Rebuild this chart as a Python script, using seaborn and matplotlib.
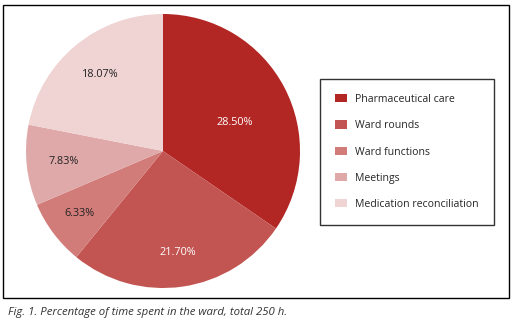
import matplotlib
matplotlib.use("Agg")
import numpy as np
import matplotlib.pyplot as plt
import seaborn as sns
from matplotlib.patches import Rectangle, Patch

categories = ["Pharmaceutical care", "Ward rounds", "Ward functions",
              "Meetings", "Medication reconciliation"]
values = [28.50, 21.70, 6.33, 7.83, 18.07]
colors = ["#B22624", "#C25451", "#D27C79", "#E0A9A9", "#F0D3D3"]
text_colors = ["white", "white", "#222222", "#222222", "#222222"]
label_dist = [0.56, 0.75, 0.76, 0.73, 0.72]

sns.set_theme(style="white")
plt.rcParams["font.family"] = ["Open Sans", "DejaVu Sans"]

fig = plt.figure(figsize=(5.16, 3.29), dpi=100)

# outer frame
fig.patches.append(Rectangle((3 / 516, 1 - 298 / 329), 506 / 516, 293 / 329,
                             transform=fig.transFigure, fill=False,
                             edgecolor="black", linewidth=1.0))

ax = fig.add_axes([26 / 516, 41 / 329, 274 / 516, 274 / 329])
labels_it = iter(f"{v:.2f}%" for v in values)
wedges, texts, autotexts = ax.pie(values, colors=colors, startangle=90,
                                  counterclock=False,
                                  autopct=lambda p: next(labels_it),
                                  wedgeprops={"edgecolor": "none", "linewidth": 0},
                                  textprops={"fontsize": 7.8})
for w, t, c, d in zip(wedges, autotexts, text_colors, label_dist):
    ang = np.deg2rad((w.theta1 + w.theta2) / 2)
    if w is wedges[0]:
        ang -= np.deg2rad(6)
    t.set_position((d * np.cos(ang), d * np.sin(ang)))
    t.set_color(c)
ax.set_xlim(-1, 1)
ax.set_ylim(-1, 1)
ax.set_aspect("equal")

handles = [Patch(facecolor=c, edgecolor="none") for c in colors]
leg = fig.legend(handles, categories, loc="center",
                 bbox_to_anchor=(407 / 516, 1 - 152 / 329),
                 frameon=True, fancybox=False, edgecolor="black",
                 fontsize=7.6, handlelength=1.1, handleheight=0.8,
                 labelspacing=1.45, borderpad=1.45, handletextpad=0.75,
                 borderaxespad=0)
leg.get_frame().set_linewidth(1.0)

fig.text(8 / 516, 1 - 313 / 329, "Fig. 1. Percentage of time spent in the ward, total 250 h.",
         fontsize=8.2, style="italic", color="#333333", va="center", ha="left")

fig.savefig("out.png", dpi=100)
